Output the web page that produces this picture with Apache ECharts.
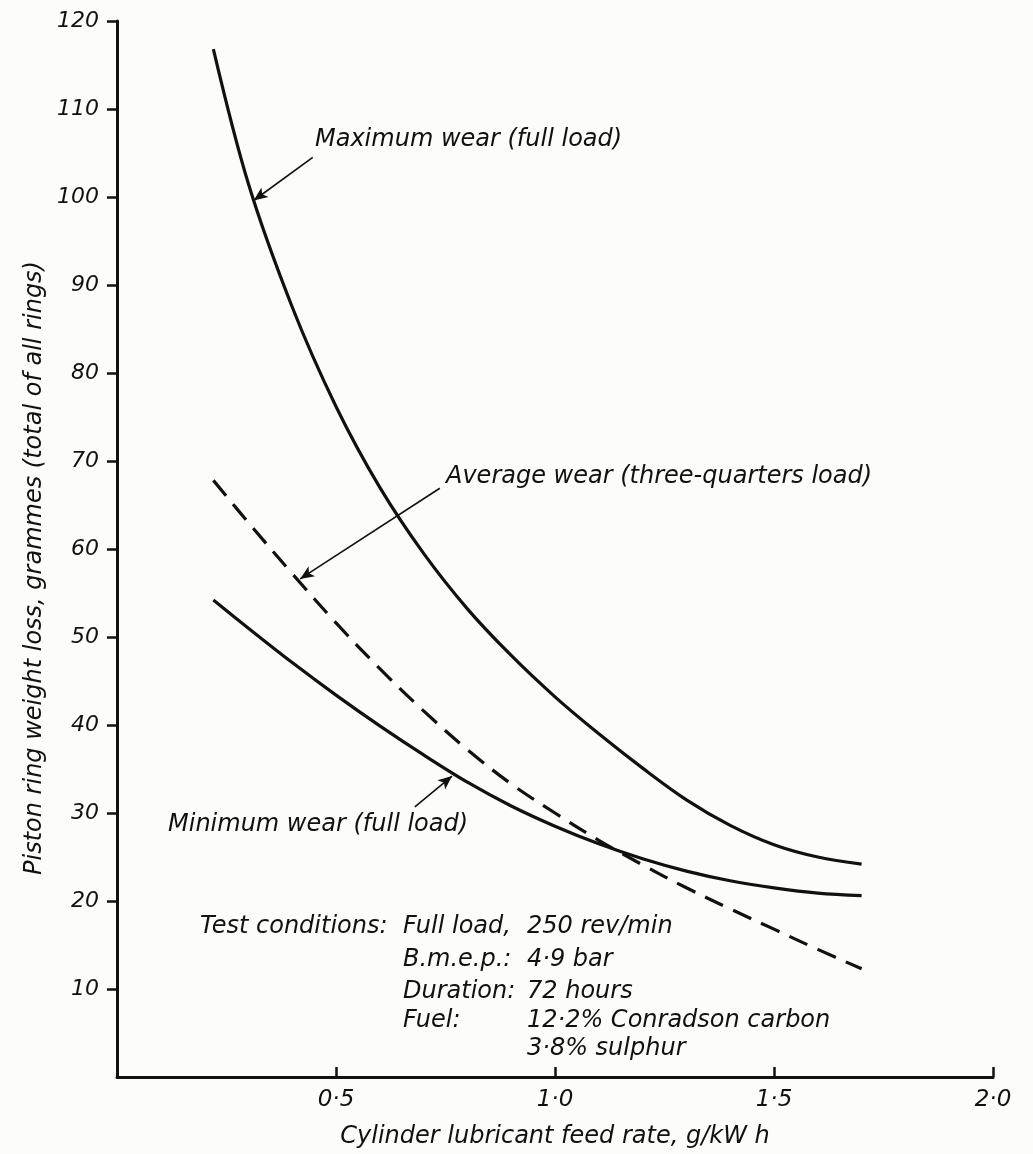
<!DOCTYPE html>
<html>
<head>
<meta charset="utf-8">
<script src="https://cdn.jsdelivr.net/npm/echarts@6/dist/echarts.min.js"></script>
<style>
html,body{margin:0;padding:0;background:#fcfcfa;}
#chart{width:1033px;height:1154px;}
</style>
</head>
<body>
<div id="chart"></div>
<script>
// Feed rate, g/kWh
const feedRate = [0.22, 0.3, 0.4, 0.5, 0.6, 0.7, 0.8, 0.9, 1.0, 1.1, 1.2, 1.3, 1.4, 1.5, 1.6, 1.7];
// Piston ring weight loss, grammes
const maxWear = [116.8, 101.5, 87.5, 76.2, 67.0, 59.5, 53.2, 47.9, 43.2, 39.0, 35.1, 31.5, 28.6, 26.4, 25.0, 24.2];
const avgWear = [67.8, 63.0, 57.2, 51.6, 46.4, 41.6, 37.2, 33.3, 30.0, 26.9, 24.1, 21.5, 19.1, 16.8, 14.5, 12.3];
const minWear = [54.2, 51.0, 47.1, 43.4, 39.9, 36.6, 33.5, 30.8, 28.5, 26.5, 24.8, 23.4, 22.3, 21.5, 20.9, 20.6];
const xTicks = [0.5, 1.0, 1.5, 2.0];
const yTicks = [10, 20, 30, 40, 50, 60, 70, 80, 90, 100, 110, 120];

const FONT = 'DejaVu Sans';
const INK = '#111';
const TXT_FONT = 'italic 24px "' + FONT + '"';

function pairs(ys) { return feedRate.map((x, i) => [x, ys[i]]); }

const arrowLine = (from, to) => ({
  silent: true,
  symbol: ['none', 'arrow'],
  symbolSize: [9, 14],
  label: {show: false},
  lineStyle: {color: INK, width: 1.6, type: 'solid'},
  data: [[{coord: from}, {coord: to}]]
});

const txt = (t, x, y) => ({
  type: 'text', x: x, y: y,
  style: {text: t, fill: INK, font: TXT_FONT, textVerticalAlign: 'middle'}
});

const chart = echarts.init(document.getElementById('chart'));
chart.setOption({
  backgroundColor: '#fcfcfa',
  animation: false,
  grid: {left: 117, right: 40, top: 21, bottom: 77},
  xAxis: {
    type: 'value', min: 0, max: 2, interval: 0.5,
    name: 'Cylinder lubricant feed rate, g/kW h',
    nameLocation: 'middle', nameGap: 48,
    nameTextStyle: {fontFamily: FONT, fontStyle: 'italic', fontSize: 24, color: INK},
    axisLine: {lineStyle: {color: INK, width: 3}},
    axisTick: {inside: true, length: 10, customValues: xTicks, lineStyle: {color: INK, width: 2.5}},
    axisLabel: {
      fontFamily: FONT, fontStyle: 'italic', fontSize: 23, color: INK, margin: 12,
      customValues: xTicks,
      formatter: v => v.toFixed(1).replace('.', '\u00b7')
    },
    splitLine: {show: false}
  },
  yAxis: {
    type: 'value', min: 0, max: 120, interval: 10,
    axisLine: {show: true, lineStyle: {color: INK, width: 3}},
    axisTick: {show: true, length: 10, customValues: yTicks, lineStyle: {color: INK, width: 2.5}},
    axisLabel: {
      fontFamily: FONT, fontStyle: 'italic', fontSize: 22, color: INK, margin: 18,
      customValues: yTicks,
      formatter: v => String(v)
    },
    splitLine: {show: false}
  },
  series: [
    {
      name: 'Maximum wear (full load)', type: 'line', smooth: 0.35, showSymbol: false,
      data: pairs(maxWear), lineStyle: {color: INK, width: 3.2},
      markLine: arrowLine([0.447, 104.5], [0.312, 99.6])
    },
    {
      name: 'Average wear (three-quarters load)', type: 'line', smooth: 0.35, showSymbol: false,
      data: pairs(avgWear), lineStyle: {color: INK, width: 3.2, type: [20, 11]},
      markLine: arrowLine([0.737, 66.9], [0.418, 56.6])
    },
    {
      name: 'Minimum wear (full load)', type: 'line', smooth: 0.35, showSymbol: false,
      data: pairs(minWear), lineStyle: {color: INK, width: 3.2},
      markLine: arrowLine([0.68, 30.7], [0.765, 34.2])
    }
  ],
  graphic: [
    {
      type: 'text', x: 35, y: 568, rotation: Math.PI / 2,
      style: {text: 'Piston ring weight loss, grammes (total of all rings)', fill: INK,
        font: TXT_FONT, textAlign: 'center', textVerticalAlign: 'middle'}
    },
    txt('Maximum wear (full load)', 315, 140),
    txt('Average wear (three-quarters load)', 446, 477),
    txt('Minimum wear (full load)', 168, 825),
    txt('Test conditions:', 200, 927),
    txt('Full load,', 403, 927),
    txt('250 rev/min', 527, 927),
    txt('B.m.e.p.:', 403, 960),
    txt('4\u00b79 bar', 527, 960),
    txt('Duration:', 403, 992),
    txt('72 hours', 527, 992),
    txt('Fuel:', 403, 1021),
    txt('12\u00b72% Conradson carbon', 527, 1021),
    txt('3\u00b78% sulphur', 527, 1049)
  ]
});
</script>
</body>
</html>
